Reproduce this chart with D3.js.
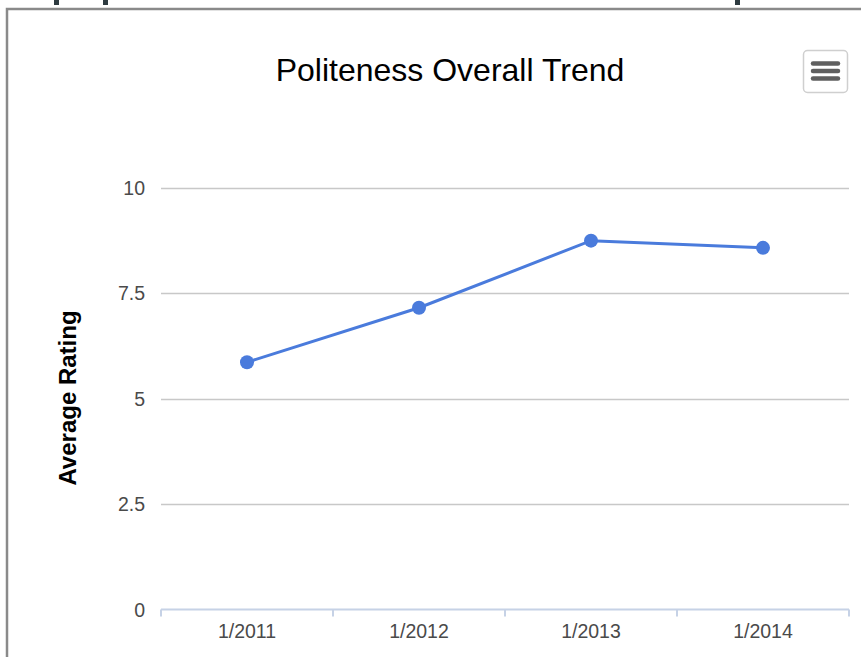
<!DOCTYPE html>
<html>
<head>
<meta charset="utf-8">
<script src="https://cdn.jsdelivr.net/npm/d3@7"></script>
<style>
  html, body { margin: 0; padding: 0; background: #fff; }
  svg { display: block; font-family: "Liberation Sans", Arial, sans-serif; }
</style>
</head>
<body>
<div id="chart"></div>
<script>
// data
const categories = ["1/2011", "1/2012", "1/2013", "1/2014"];
const ratings = [5.86, 7.15, 8.74, 8.57];
const yTicks = [0, 2.5, 5, 7.5, 10];

const W = 861, H = 657;
const plot = { left: 161, right: 849, top: 187.5, bottom: 609.5 };

const svg = d3.select("#chart").append("svg")
    .attr("width", W)
    .attr("height", H);

// page bits cut off at the top edge
[[54, 5], [103, 5], [735, 5]].forEach(d => {
    svg.append("rect").attr("x", d[0]).attr("y", 0).attr("width", d[1]).attr("height", 5)
        .attr("fill", "#2e3b40");
});

// frame around the chart
svg.append("path")
    .attr("d", `M7,${H} V9 H${W}`)
    .attr("fill", "none")
    .attr("stroke", "#8a8a8a")
    .attr("stroke-width", 2.5);

// scales
const x = d3.scaleBand().domain(categories).range([plot.left, plot.right]).padding(0);
const y = d3.scaleLinear().domain([0, 10]).range([plot.bottom, plot.top]);

// gridlines
svg.append("g").selectAll("line")
    .data(yTicks.filter(t => t > 0))
    .join("line")
    .attr("x1", plot.left).attr("x2", plot.right)
    .attr("y1", d => Math.round(y(d)) + 0.5).attr("y2", d => Math.round(y(d)) + 0.5)
    .attr("stroke", "#c8c8c8")
    .attr("stroke-width", 1.5);

// y tick labels
svg.append("g").selectAll("text")
    .data(yTicks)
    .join("text")
    .attr("x", 145)
    .attr("y", d => y(d))
    .attr("dy", "0.36em")
    .attr("text-anchor", "end")
    .attr("font-size", 19.5)
    .attr("fill", "#4a4a4a")
    .text(d => d);

// x axis: baseline + boundary ticks
const axisColor = "#c6d2e6";
const xAxis = svg.append("g");
xAxis.append("line")
    .attr("x1", plot.left).attr("x2", plot.right)
    .attr("y1", plot.bottom).attr("y2", plot.bottom)
    .attr("stroke", axisColor).attr("stroke-width", 2);
const bounds = categories.map(c => x(c)).concat([x(categories[categories.length - 1]) + x.bandwidth()]);
xAxis.selectAll("line.tick")
    .data(bounds)
    .join("line")
    .attr("class", "tick")
    .attr("x1", d => d).attr("x2", d => d)
    .attr("y1", plot.bottom).attr("y2", plot.bottom + 7)
    .attr("stroke", axisColor).attr("stroke-width", 2);
xAxis.selectAll("text")
    .data(categories)
    .join("text")
    .attr("x", d => x(d) + x.bandwidth() / 2)
    .attr("y", 638)
    .attr("text-anchor", "middle")
    .attr("font-size", 19.5)
    .attr("fill", "#4a4a4a")
    .text(d => d);

// line + points
const pts = categories.map((c, i) => [x(c) + x.bandwidth() / 2, y(ratings[i])]);
svg.append("path")
    .datum(pts)
    .attr("d", d3.line())
    .attr("fill", "none")
    .attr("stroke", "#4a7bdc")
    .attr("stroke-width", 3);
svg.append("g").selectAll("circle")
    .data(pts)
    .join("circle")
    .attr("cx", d => d[0]).attr("cy", d => d[1])
    .attr("r", 7)
    .attr("fill", "#4a7bdc");

// title
svg.append("text")
    .attr("x", 450).attr("y", 81)
    .attr("text-anchor", "middle")
    .attr("font-size", 32)
    .attr("fill", "#000")
    .text("Politeness Overall Trend");

// y axis title
svg.append("text")
    .attr("transform", "translate(76,398) rotate(-90)")
    .attr("text-anchor", "middle")
    .attr("font-size", 24)
    .attr("font-weight", "bold")
    .attr("fill", "#000")
    .text("Average Rating");

// menu button
const menu = svg.append("g").attr("transform", "translate(803,50)");
menu.append("rect")
    .attr("x", 0.5).attr("y", 0.5).attr("width", 44).attr("height", 42).attr("rx", 4)
    .attr("fill", "#fff").attr("stroke", "#cfcfcf").attr("stroke-width", 1.5);
[13.5, 21, 28.5].forEach(yy => {
    menu.append("line")
        .attr("x1", 10).attr("x2", 35).attr("y1", yy).attr("y2", yy)
        .attr("stroke", "#5f5f5f").attr("stroke-width", 4.5).attr("stroke-linecap", "round");
});
</script>
</body>
</html>
